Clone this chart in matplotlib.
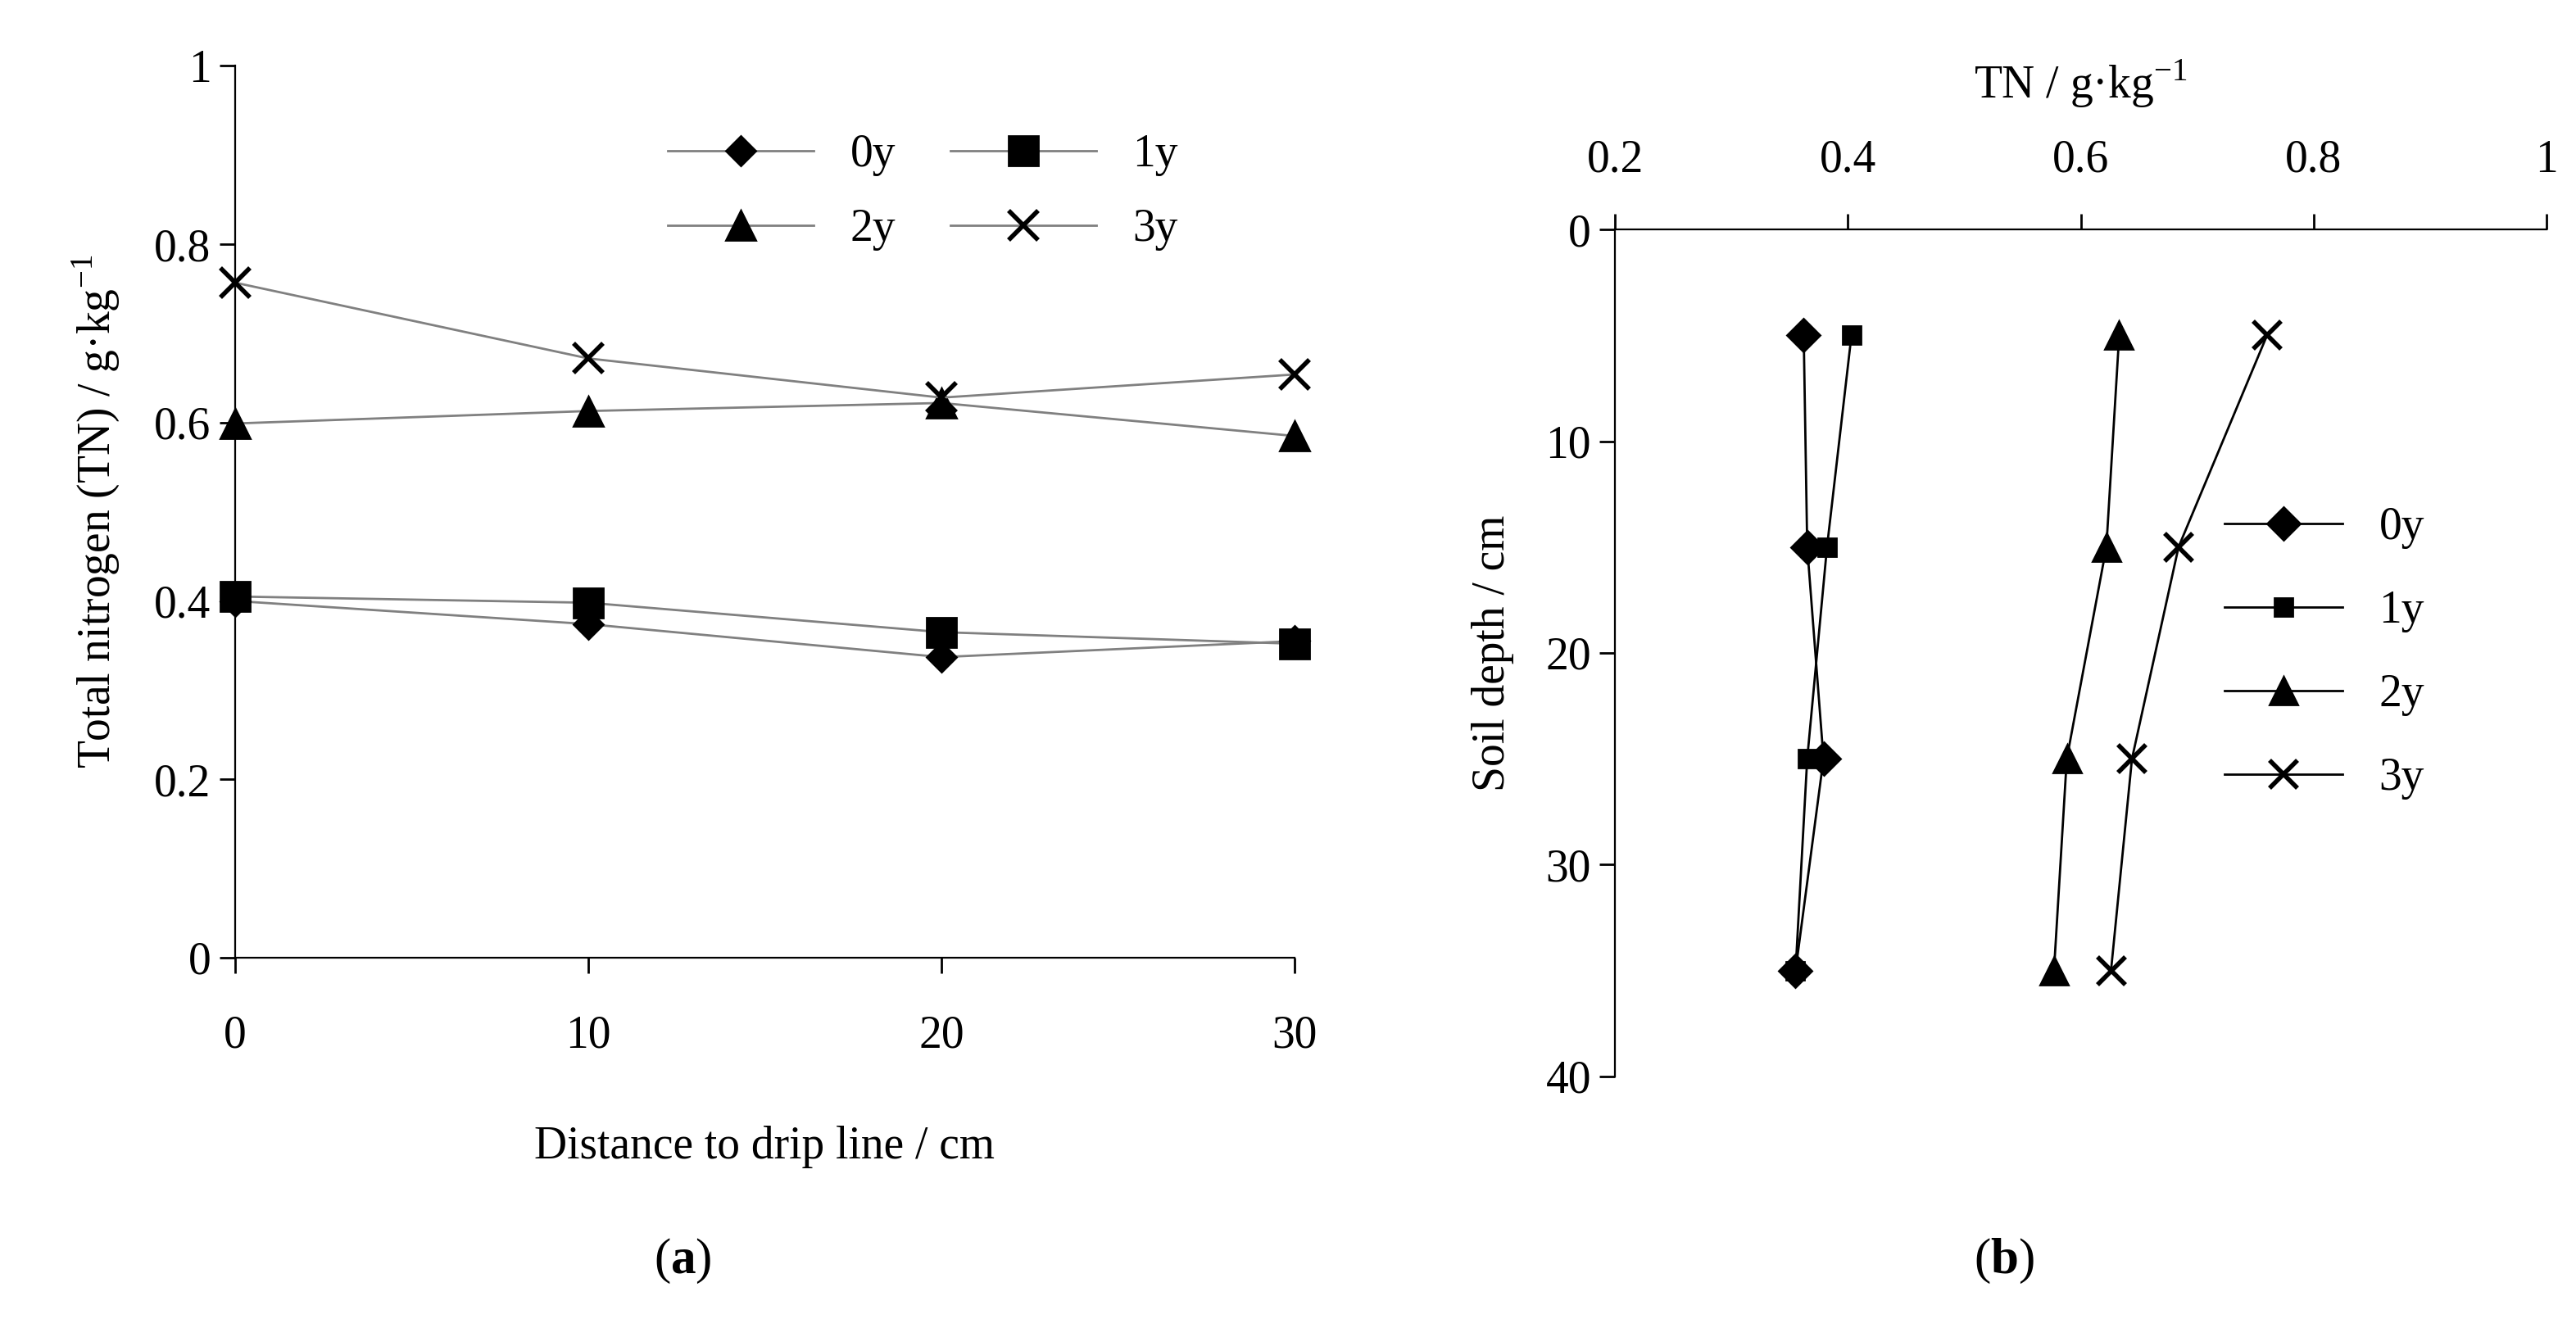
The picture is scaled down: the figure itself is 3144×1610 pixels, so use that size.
import matplotlib.pyplot as plt

plt.rcParams.update({
    "font.family": ["Liberation Serif", "DejaVu Serif"],
    "font.size": 20,
    "mathtext.fontset": "custom",
    "mathtext.rm": "Liberation Serif",
    "mathtext.bf": "Liberation Serif:bold",
})

series = ["0y", "1y", "2y", "3y"]
markers = ["D", "s", "^", "x"]

# panel (a): TN vs distance to drip line
dist = [0, 10, 20, 30]
tn_a = {
    "0y": [0.400, 0.374, 0.337, 0.355],
    "1y": [0.405, 0.398, 0.365, 0.352],
    "2y": [0.599, 0.613, 0.622, 0.585],
    "3y": [0.757, 0.672, 0.628, 0.654],
}

# panel (b): TN vs soil depth
depth = [5, 15, 25, 35]
tn_b = {
    "0y": [0.362, 0.365, 0.379, 0.355],
    "1y": [0.403, 0.382, 0.365, 0.355],
    "2y": [0.633, 0.622, 0.588, 0.577],
    "3y": [0.760, 0.684, 0.644, 0.626],
}

msize_a = {"D": 9, "s": 13, "^": 13, "x": 13}
msize_b = {"D": 10, "s": 8, "^": 12, "x": 12}

fig = plt.figure(figsize=(15.72, 8.05), dpi=200)

# ── (a) ──
ax = fig.add_axes([0.0912, 0.274, 0.4114, 0.676])
handles = {}
for s, m in zip(series, markers):
    handles[s], = ax.plot(dist, tn_a[s], color="#808080", lw=1, marker=m, ms=msize_a[m],
                          mfc="black", mec="black", mew=2 if m == "x" else 1,
                          clip_on=False, label=s)
ax.set_xlim(0, 30)
ax.set_ylim(0, 1)
ax.set_xticks(dist)
ax.set_yticks([0, 0.2, 0.4, 0.6, 0.8, 1.0])
ax.set_yticklabels(["0", "0.2", "0.4", "0.6", "0.8", "1"])
ax.spines[["top", "right"]].set_visible(False)
ax.tick_params(length=7, width=1)
ax.tick_params(axis="x", pad=18)
ax.set_xlabel("Distance to drip line / cm", labelpad=30)
ax.set_ylabel("Total nitrogen (TN) / g·kg$^{-1}$", labelpad=14)
# column-major fill -> rows read 0y 1y / 2y 3y
order = ["0y", "2y", "1y", "3y"]
ax.legend([handles[s] for s in order], order, ncol=2, loc="upper left",
          bbox_to_anchor=(0.37, 0.97), frameon=False,
          handlelength=3.2, columnspacing=1.2, labelspacing=0.7)

# ── (b) ──
bx = fig.add_axes([0.627, 0.184, 0.3615, 0.642])
for s, m in zip(series, markers):
    bx.plot(tn_b[s], depth, color="black", lw=1, marker=m, ms=msize_b[m],
            mfc="black", mec="black", mew=2 if m == "x" else 1, label=s)
bx.set_xlim(0.2, 1.0)
bx.set_ylim(40, 0)
bx.set_xticks([0.2, 0.4, 0.6, 0.8, 1.0])
bx.set_xticklabels(["0.2", "0.4", "0.6", "0.8", "1"])
bx.set_yticks([0, 10, 20, 30, 40])
bx.xaxis.tick_top()
bx.xaxis.set_label_position("top")
bx.spines[["bottom", "right"]].set_visible(False)
bx.tick_params(length=7, width=1)
bx.tick_params(axis="x", pad=14)
bx.set_xlabel("TN / g·kg$^{-1}$", labelpad=18)
bx.set_ylabel("Soil depth / cm", labelpad=14)
bx.legend(loc="center left", bbox_to_anchor=(1.0 - 0.39, 0.5), frameon=False,
          handlelength=2.6, labelspacing=0.9)

fig.text(0.265, 0.035, r"($\mathbf{a}$)", ha="center", fontsize=22)
fig.text(0.778, 0.035, r"($\mathbf{b}$)", ha="center", fontsize=22)

fig.savefig("out.png", dpi=200)
